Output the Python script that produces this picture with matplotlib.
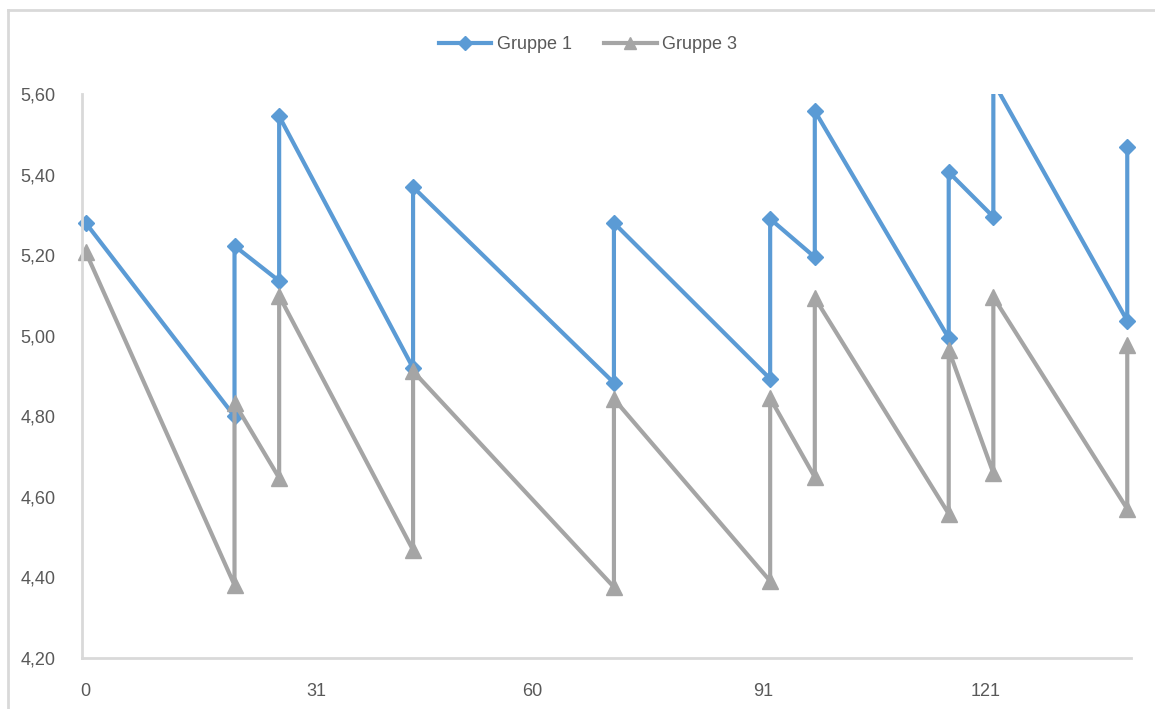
import matplotlib
matplotlib.use("Agg")
from matplotlib import pyplot as plt
from matplotlib.lines import Line2D
from matplotlib.patches import Rectangle
from matplotlib.ticker import FuncFormatter

# Tage (jeweils Ende / Beginn eines Abschnitts)
tage = [0, 20, 20, 26, 26, 44, 44, 71, 71, 92, 92, 98, 98, 116, 116, 122, 122, 140, 140]

gruppe1 = [5.28, 4.80, 5.223, 5.136, 5.545, 4.92, 5.369, 4.883, 5.28, 4.893,
           5.29, 5.195, 5.558, 4.994, 5.406, 5.295, 5.63, 5.037, 5.468]
gruppe3 = [5.208, 4.381, 4.833, 4.647, 5.099, 4.468, 4.912, 4.376, 4.843, 4.391,
           4.845, 4.649, 5.094, 4.558, 4.965, 4.659, 5.096, 4.570, 4.977]

x_ticks = [0, 31, 60, 91, 121]
y_ticks = [4.2, 4.4, 4.6, 4.8, 5.0, 5.2, 5.4, 5.6]

blau = '#5B9BD5'
grau = '#A5A5A5'
text_farbe = '#595959'
achse_farbe = '#D9D9D9'

plt.rcParams['font.family'] = ['Liberation Sans', 'DejaVu Sans']

fig = plt.figure(figsize=(11.55, 7.09), dpi=100)
ax = fig.add_axes([0.0710, 0.0719, 0.9792 - 0.0710, 0.8674 - 0.0719])

l1, = ax.plot(tage, gruppe1, color=blau, lw=3, marker='D', ms=8, label='Gruppe 1')
l3, = ax.plot(tage, gruppe3, color=grau, lw=3, marker='^', ms=11, label='Gruppe 3')

# nur oben abschneiden, Marker am Rand links/rechts sichtbar lassen
clip = Rectangle((-0.05, -0.1), 1.1, 1.1, transform=ax.transAxes, visible=False)
ax.add_patch(clip)
for l in (l1, l3):
    l.set_clip_path(clip)

ax.set_xlim(-0.5, 140.5)
ax.set_ylim(4.2, 5.6)
ax.set_xticks(x_ticks)
ax.set_yticks(y_ticks)
ax.yaxis.set_major_formatter(FuncFormatter(lambda v, p: f'{v:.2f}'.replace('.', ',')))
ax.tick_params(length=0, labelsize=13, colors=text_farbe)
ax.tick_params(axis='y', pad=19)
ax.tick_params(axis='x', pad=18)

for s in ['top', 'right']:
    ax.spines[s].set_visible(False)
for s in ['left', 'bottom']:
    ax.spines[s].set_color(achse_farbe)
    ax.spines[s].set_linewidth(2)

handles = [Line2D([], [], color=blau, lw=3, marker='D', ms=7),
           Line2D([], [], color=grau, lw=3, marker='^', ms=9)]
fig.legend(handles, ['Gruppe 1', 'Gruppe 3'], loc='center', bbox_to_anchor=(0.509, 0.937),
           ncol=2, frameon=False, fontsize=13, labelcolor=text_farbe,
           handlelength=2.9, handletextpad=0.3, columnspacing=1.8)

# Rahmen des Diagrammbereichs (oben und links sichtbar)
fig.add_artist(Line2D([8 / 1155, 1], [1 - 10 / 709, 1 - 10 / 709], color=achse_farbe, lw=2,
                      transform=fig.transFigure))
fig.add_artist(Line2D([8 / 1155, 8 / 1155], [0, 1 - 10 / 709], color=achse_farbe, lw=2,
                      transform=fig.transFigure))

fig.savefig('out.png', dpi=100)
